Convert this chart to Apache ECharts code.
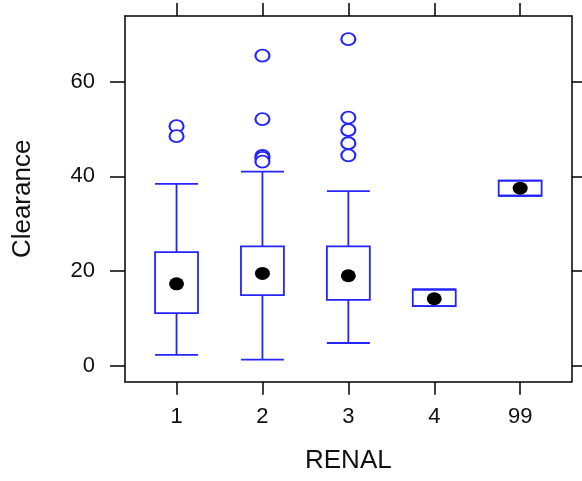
<!DOCTYPE html>
<html><head><meta charset="utf-8">
<script src="https://cdn.jsdelivr.net/npm/echarts@6/dist/echarts.min.js"></script>
<style>html,body{margin:0;padding:0;background:#fff}#c{width:582px;height:481px}</style>
</head><body><div id="c"></div>
<script>
const categories = ['1', '2', '3', '4', '99'];
const whiskerLow = [2.3, 1.3, 4.8, 12.6, 35.9];
const q1 = [11.1, 14.9, 13.9, 12.6, 35.9];
const median = [17.3, 19.5, 19.0, 14.15, 37.5];
const q3 = [24.0, 25.2, 25.2, 16.1, 39.1];
const whiskerHigh = [38.4, 41.0, 36.9, 16.1, 39.1];
const outlierGroup = [1, 1, 2, 2, 2, 2, 2, 3, 3, 3, 3, 3];
const outlierValue = [50.6, 48.5, 65.5, 52.1, 44.3, 43.9, 43.1, 69.0, 52.4, 49.8, 47.0, 44.45];
const yTicks = [0, 20, 40, 60];
const xTicks = categories.map((c, i) => i + 1);

const BLUE = '#2424ff';
const FONT = 'Liberation Sans, Arial, sans-serif';

const boxData = categories.map((c, i) => [i + 1, whiskerLow[i], q1[i], median[i], q3[i], whiskerHigh[i]]);
const medData = categories.map((c, i) => [i + 1, median[i]]);
const outData = outlierGroup.map((g, i) => [g, outlierValue[i]]);

const chart = echarts.init(document.getElementById('c'), null, {renderer: 'canvas'});
const axisLine = {show: true, onZero: false, lineStyle: {color: '#000', width: 1.5}};
const tickStyle = {color: '#000', width: 1.5};
chart.setOption({
  animation: false,
  backgroundColor: '#fff',
  grid: {left: 125, right: 10.3, top: 16, bottom: 99.3, containLabel: false},
  xAxis: [{
    type: 'value', position: 'bottom', min: 0.4, max: 5.6,
    axisLine: axisLine, splitLine: {show: false},
    axisTick: {show: true, customValues: xTicks, length: 13, lineStyle: tickStyle},
    axisLabel: {show: true, customValues: xTicks, formatter: v => categories[Math.round(v) - 1],
      fontSize: 22, margin: 24, color: '#111', fontFamily: FONT},
    name: 'RENAL', nameLocation: 'middle', nameGap: 66,
    nameTextStyle: {fontSize: 26, color: '#111', fontFamily: FONT}
  }, {
    type: 'value', position: 'top', min: 0.4, max: 5.6,
    axisLine: axisLine, splitLine: {show: false},
    axisTick: {show: true, customValues: xTicks, length: 13, lineStyle: tickStyle},
    axisLabel: {show: false}
  }],
  yAxis: [{
    type: 'value', position: 'left', min: -3.38, max: 73.88,
    axisLine: axisLine, splitLine: {show: false},
    axisTick: {show: true, customValues: yTicks, length: 15, lineStyle: tickStyle},
    axisLabel: {show: true, customValues: yTicks, fontSize: 22, margin: 30, color: '#111', fontFamily: FONT},
    name: 'Clearance', nameLocation: 'middle', nameGap: 89,
    nameTextStyle: {fontSize: 26, color: '#111', fontFamily: FONT}
  }, {
    type: 'value', position: 'right', min: -3.38, max: 73.88,
    axisLine: axisLine, splitLine: {show: false},
    axisTick: {show: true, customValues: yTicks, length: 15, lineStyle: tickStyle},
    axisLabel: {show: false}
  }],
  series: [{
    type: 'custom',
    xAxisIndex: 0, yAxisIndex: 0,
    data: boxData,
    renderItem: function (params, api) {
      const x = api.value(0);
      const lo = api.coord([x, api.value(1)]);
      const b1 = api.coord([x, api.value(2)]);
      const b3 = api.coord([x, api.value(4)]);
      const hi = api.coord([x, api.value(5)]);
      const w = api.size([1, 0])[0] * 0.5;
      const cx = lo[0];
      const style = {stroke: BLUE, lineWidth: 1.8, fill: null};
      const children = [
        {type: 'rect', shape: {x: cx - w / 2, y: b3[1], width: w, height: b1[1] - b3[1]}, style: style},
        {type: 'line', shape: {x1: cx, y1: b3[1], x2: cx, y2: hi[1]}, style: style},
        {type: 'line', shape: {x1: cx, y1: b1[1], x2: cx, y2: lo[1]}, style: style},
        {type: 'line', shape: {x1: cx - w / 2, y1: hi[1], x2: cx + w / 2, y2: hi[1]}, style: style},
        {type: 'line', shape: {x1: cx - w / 2, y1: lo[1], x2: cx + w / 2, y2: lo[1]}, style: style}
      ];
      return {type: 'group', children: children};
    }
  }, {
    type: 'scatter', xAxisIndex: 0, yAxisIndex: 0,
    data: outData, symbol: 'emptyCircle', symbolSize: [14, 12],
    itemStyle: {color: BLUE, borderColor: BLUE, borderWidth: 1.8, opacity: 1}
  }, {
    type: 'scatter', xAxisIndex: 0, yAxisIndex: 0,
    data: medData, symbol: 'circle', symbolSize: [15, 13],
    itemStyle: {color: '#000', opacity: 1}
  }]
});
</script>
</body></html>
